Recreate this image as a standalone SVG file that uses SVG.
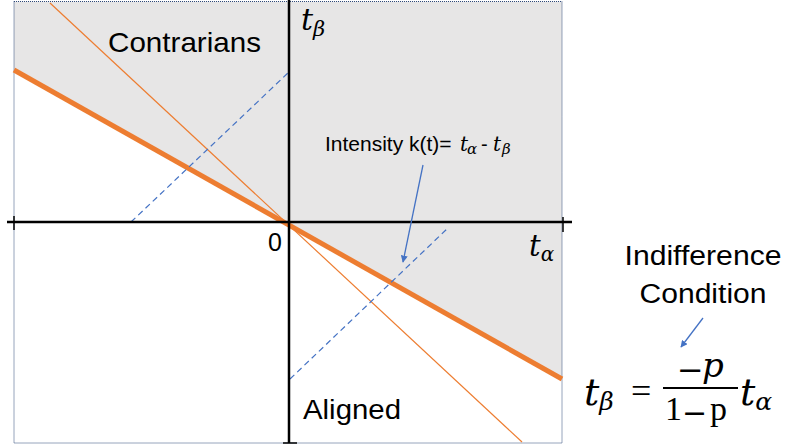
<svg xmlns="http://www.w3.org/2000/svg" width="787" height="448" viewBox="0 0 787 448">
<style>
.lbl{font-family:"Liberation Sans",Arial,sans-serif;fill:#000}
.m{font-family:"DejaVu Serif",serif;font-style:italic;fill:#000}
.r{font-family:"Liberation Serif","Times New Roman",serif;fill:#000}
.mn{font-family:"DejaVu Serif",serif;fill:#000}
.axis{stroke:#000;stroke-width:2.5;fill:none}
.tick{stroke:#000;stroke-width:1.5}
.dash{stroke:#4472c4;stroke-width:1.2;stroke-dasharray:6 4;fill:none}
.arr{stroke:#4472c4;stroke-width:1.3;fill:none;marker-end:url(#ah)}
</style>
<defs>
<marker id="ah" viewBox="0 0 10 10" refX="9" refY="5" markerWidth="7" markerHeight="7" orient="auto" markerUnits="userSpaceOnUse">
<path d="M0,0 L10,5 L0,10 z" fill="#4472c4"/>
</marker>
</defs>
<rect width="787" height="448" fill="#fff"/>
<g id="plot">
<polygon points="14,1.5 562,1.5 562,379 14,70" fill="#e7e6e6"/>
<rect x="14" y="1.5" width="548" height="441.5" fill="none" stroke="#2f4a7a" stroke-width="1" stroke-dasharray="1 1"/>
<line x1="50" y1="3" x2="522" y2="442" stroke="#ed7d31" stroke-width="1.2"/>
<line x1="14" y1="70" x2="562" y2="379" stroke="#ed7d31" stroke-width="5"/>
<line class="dash" x1="131" y1="222" x2="289" y2="72"/>
<line class="dash" x1="290" y1="379" x2="449" y2="227"/>
<line class="axis" x1="289" y1="0" x2="289" y2="443"/>
<line class="axis" x1="7" y1="222" x2="572" y2="222"/>
<line class="tick" x1="14" y1="216" x2="14" y2="230"/>
<line class="tick" x1="563" y1="217" x2="563" y2="232"/>
<line class="tick" x1="283" y1="443" x2="297" y2="443"/>
</g>
<g id="contrarians"><text class="lbl" x="108" y="52" font-size="28" textLength="153" lengthAdjust="spacingAndGlyphs">Contrarians</text></g>
<g id="aligned"><text class="lbl" x="303" y="419" font-size="27" textLength="98" lengthAdjust="spacingAndGlyphs">Aligned</text></g>
<g id="origin"><text class="lbl" x="268" y="251" font-size="25">0</text></g>
<g id="tbeta-axis"><text class="m" x="301" y="30" font-size="30">t<tspan font-size="21" dy="6">β</tspan></text></g>
<g id="talpha-axis"><text class="m" x="529" y="256" font-size="29">t<tspan font-size="20" dy="5">α</tspan></text></g>
<g id="intensity">
<text class="lbl" x="325" y="151" font-size="21">Intensity k(t)= <tspan class="m" x="460" font-size="20">t</tspan><tspan class="m" x="467" font-size="15" dy="3">α</tspan><tspan x="481" dy="-3" font-size="20">-</tspan><tspan class="m" x="493" font-size="20">t</tspan><tspan class="m" x="502" font-size="15" dy="3">β</tspan></text>
</g>
<g id="indifference">
<text class="lbl" x="703" y="265" font-size="27" text-anchor="middle" textLength="157" lengthAdjust="spacingAndGlyphs">Indifference</text>
<text class="lbl" x="703" y="303" font-size="27" text-anchor="middle" textLength="127" lengthAdjust="spacingAndGlyphs">Condition</text>
</g>
<g id="formula">
<text class="m" x="584" y="405" font-size="38">t<tspan font-size="25" dy="5">β</tspan></text>
<text class="r" x="631" y="403" font-size="36">=</text>
<line x1="663" y1="388" x2="738" y2="388" stroke="#000" stroke-width="2"/>
<text class="mn" x="677" y="381" font-size="32">−</text>
<text class="m" x="702" y="377" font-size="34">p</text>
<text class="r" x="665" y="420" font-size="34">1</text>
<text class="mn" x="682" y="423" font-size="30">−</text>
<text class="r" x="710" y="420" font-size="34">p</text>
<text class="m" x="740" y="405" font-size="38">t<tspan font-size="25" dy="5">α</tspan></text>
</g>
<g id="connectors">
<line class="arr" x1="423" y1="165" x2="403" y2="262"/>
<line class="arr" x1="703" y1="318" x2="681" y2="347"/>
</g>
</svg>
